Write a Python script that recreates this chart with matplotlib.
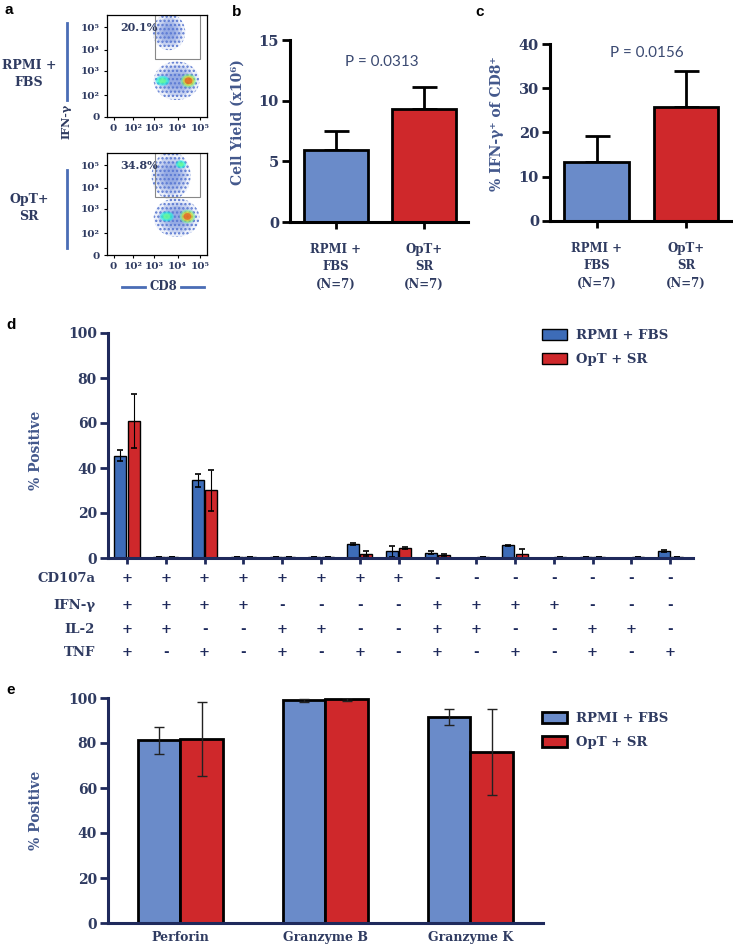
import numpy as np
import matplotlib
matplotlib.use("Agg")
import matplotlib.pyplot as plt
from matplotlib.patches import Ellipse, Rectangle
from matplotlib.transforms import blended_transform_factory

# ---- data ----
groups = ["RPMI +\nFBS\n(N=7)", "OpT+\nSR\n(N=7)"]
yield_mean = [5.9, 9.3]
yield_err = [1.6, 1.85]
ifng_mean = [13.3, 25.8]
ifng_err = [6.0, 8.0]

cd107a = ["+", "+", "+", "+", "+", "+", "+", "+", "-", "-", "-", "-", "-", "-", "-"]
ifng = ["+", "+", "+", "+", "-", "-", "-", "-", "+", "+", "+", "+", "-", "-", "-"]
il2 = ["+", "+", "-", "-", "+", "+", "-", "-", "+", "+", "-", "-", "+", "+", "-"]
tnf = ["+", "-", "+", "-", "+", "-", "+", "-", "+", "-", "+", "-", "+", "-", "+"]
d_rpmi = [45.5, 0.5, 34.5, 0.4, 0.4, 0.4, 6.1, 3.0, 2.4, 0.1, 5.6, 0.1, 0.3, 0.1, 3.0]
d_rpmi_err = [2.3, 0, 3.0, 0, 0, 0, 0.4, 2.5, 0.5, 0, 0.3, 0, 0, 0, 0.4]
d_opt = [60.8, 0.5, 30.1, 0.4, 0.4, 0.4, 1.9, 4.4, 1.2, 0.4, 1.6, 0.3, 0.3, 0.3, 0.4]
d_opt_err = [12.0, 0, 9.0, 0, 0, 0, 1.0, 0.5, 0.5, 0, 2.5, 0, 0, 0, 0]

cytotox = ["Perforin", "Granzyme B", "Granzyme K"]
e_rpmi = [81.2, 99.0, 91.4]
e_rpmi_err = [6.0, 0.6, 3.5]
e_opt = [81.7, 99.5, 76.0]
e_opt_err = [16.5, 0.7, 19.0]

# flow plots: blobs (x, y, width, height, peak colour 0..1 of jet), in decade units
flow_xticks = [0, 0.9, 1.85, 2.95, 4.0]
flow_yticks = [0, 0.97, 2.03, 2.96, 3.97]
flow_ticklabels = ["0", "10²", "10³", "10⁴", "10⁵"]
rpmi_blobs = [(2.55, 3.75, 1.5, 1.6, 0.25), (2.9, 1.6, 2.1, 1.7, 0.25),
              (2.25, 1.6, 0.8, 0.55, 0.5), (3.45, 1.6, 0.9, 0.75, 0.88)]
opt_blobs = [(2.65, 3.5, 1.8, 2.1, 0.25), (3.1, 4.0, 0.6, 0.45, 0.5),
             (2.9, 1.65, 2.1, 1.7, 0.25), (2.45, 1.7, 0.8, 0.55, 0.5),
             (3.4, 1.7, 0.9, 0.75, 0.88)]
flow_pct = ["20.1%", "34.8%"]

W, H = 733, 946
NAVY = "#1f2a5c"
TXT = "#2f3b61"
LBL = "#43588c"
BLUE = "#6a8bc9"
BLUE_D = "#3d6cb8"
RED = "#cf282b"
SERIF = ["DejaVu Serif", "DejaVu Sans"]

fig = plt.figure(figsize=(W / 100, H / 100), dpi=100)


def box(l, t, r, b):
    return [l / W, 1 - b / H, (r - l) / W, (b - t) / H]


def ptext(x, y, s, **kw):
    fig.text(x / W, 1 - y / H, s, **kw)


# ---- panel a ----
plt.rcParams["hatch.linewidth"] = 1.1
jet = plt.get_cmap("jet")
for i, (top, bot, blobs, pct) in enumerate([(15, 117, rpmi_blobs, flow_pct[0]),
                                            (153, 255, opt_blobs, flow_pct[1])]):
    ax = fig.add_axes(box(107, top, 207, bot))
    ax.set_xlim(-0.3, 4.3)
    ax.set_ylim(0, 4.5)
    # speckled outer halo of every cluster
    for bx, by, bw, bh, peak in blobs:
        ax.add_patch(Ellipse((bx, by), bw, bh, fc="#e8edf9", ec="none", lw=0, alpha=0.8))
        ax.add_patch(Ellipse((bx, by), bw, bh, fill=False, ec="#5a78d0", hatch="....", lw=0))
    # denser cores
    for bx, by, bw, bh, peak in blobs:
        n = 4
        for k in range(1, n):
            s = 1 - 0.8 * k / n
            if peak <= 0.3:
                c, a = "#5b7bd6", 0.25
            else:
                c, a = jet(0.3 + (peak - 0.3) * k / (n - 1)), 0.5
            ax.add_patch(Ellipse((bx, by), bw * s, bh * s, color=c, alpha=a, lw=0))
    ax.add_patch(Rectangle((1.93, 2.56), 2.07, 2.5, fill=False, ec="#888888", lw=0.8))
    ax.text(0.32, 3.97, pct, ha="left", va="center", family=SERIF,
            weight="bold", fontsize=8, color=TXT)
    ax.set_xticks(flow_xticks, flow_ticklabels)
    ax.set_yticks(flow_yticks, flow_ticklabels)
    ax.tick_params(length=2, width=0.8, pad=3, labelsize=7.5, labelcolor=TXT)
    for lab in ax.get_xticklabels() + ax.get_yticklabels():
        lab.set_family(SERIF)
        lab.set_weight("bold")
    for sp in ax.spines.values():
        sp.set_linewidth(0.9)

fig.add_artist(plt.Line2D([67 / W] * 2, [1 - 23 / H, 1 - 100 / H], color="#4a6db5", lw=2))
fig.add_artist(plt.Line2D([67 / W] * 2, [1 - 170 / H, 1 - 248 / H], color="#4a6db5", lw=2))
fig.add_artist(plt.Line2D([122 / W, 145 / W], [1 - 287 / H] * 2, color="#4a6db5", lw=2))
fig.add_artist(plt.Line2D([181 / W, 204 / W], [1 - 287 / H] * 2, color="#4a6db5", lw=2))
ptext(163, 287, "CD8", ha="center", va="center", family=SERIF, weight="bold", fontsize=8.5, color=TXT)
ptext(66, 121, "IFN-γ", ha="center", va="center", rotation=90, family=SERIF,
      weight="bold", fontsize=8, color=TXT)
ptext(29, 74, "RPMI +\nFBS", ha="center", va="center", family=SERIF, weight="bold",
      fontsize=9, color=TXT, linespacing=1.45)
ptext(29, 208, "OpT+\nSR", ha="center", va="center", family=SERIF, weight="bold",
      fontsize=9, color=TXT, linespacing=1.45)

# ---- panels b and c ----
for pos, mean, err, ylim, yt, ylabel, pval, pxy, lab_y in [
        ((290, 40, 468, 222), yield_mean, yield_err, 15, [0, 5, 10, 15],
         "Cell Yield (x10⁶)", "P = 0.0313", (0.52, 13.2), 0.55),
        ((550, 44, 731, 221), ifng_mean, ifng_err, 40, [0, 10, 20, 30, 40],
         "% IFN-γ⁺ of CD8⁺", "P = 0.0156", (0.56, 38.0), 0.55)]:
    ax = fig.add_axes(box(*pos))
    x = np.arange(2)
    ax.bar(x, mean, width=0.72, color=[BLUE, RED], edgecolor="black", linewidth=2, zorder=2)
    ax.errorbar(x, mean, yerr=[[0, 0], err], fmt="none", ecolor="black",
                elinewidth=2, capsize=9, capthick=2, zorder=1)
    ax.set_ylim(0, ylim)
    ax.set_xlim(-0.52, 1.5)
    ax.set_yticks(yt)
    ax.set_xticks(x, groups)
    ax.spines[["top", "right"]].set_visible(False)
    for sp in ["left", "bottom"]:
        ax.spines[sp].set_linewidth(2.2)
    ax.tick_params(axis="y", length=6, width=2, pad=2, labelsize=10.5, labelcolor=TXT)
    ax.tick_params(axis="x", length=5, width=2, pad=10, labelsize=8.5, labelcolor=TXT)
    for lab in ax.get_xticklabels() + ax.get_yticklabels():
        lab.set_family(SERIF)
        lab.set_weight("bold")
    for lab in ax.get_xticklabels():
        lab.set_linespacing(1.45)
    ax.set_ylabel(ylabel, family=SERIF, weight="bold", fontsize=10, color=LBL)
    ax.yaxis.set_label_coords(-0.255, lab_y)
    ax.text(pxy[0], pxy[1], pval, ha="center", va="center", family="Lato",
            fontsize=11, color="#3b4a72")

# ---- panel d ----
ax = fig.add_axes(box(108, 333, 693, 558))
x = np.arange(len(cd107a))
ax.bar(x - 0.17, d_rpmi, 0.31, yerr=d_rpmi_err, color=BLUE_D, edgecolor="black",
       linewidth=1, error_kw=dict(elinewidth=0.8, capsize=2, capthick=1.2), label="RPMI + FBS")
ax.bar(x + 0.17, d_opt, 0.31, yerr=d_opt_err, color=RED, edgecolor="black",
       linewidth=1, error_kw=dict(elinewidth=0.8, capsize=2, capthick=1.2), label="OpT + SR")
ax.set_xlim(-0.49, 14.59)
ax.set_ylim(0, 100)
ax.set_yticks([0, 20, 40, 60, 80, 100])
ax.set_xticks(x, [""] * len(x))
ax.spines[["top", "right"]].set_visible(False)
for sp in ["left", "bottom"]:
    ax.spines[sp].set_linewidth(2.2)
    ax.spines[sp].set_color(NAVY)
ax.tick_params(axis="y", length=6, width=2, pad=2, color=NAVY, labelsize=10, labelcolor=TXT)
ax.tick_params(axis="x", length=4, width=2, color=NAVY)
for lab in ax.get_yticklabels():
    lab.set_family(SERIF)
    lab.set_weight("bold")
ax.set_ylabel("% Positive", family=SERIF, weight="bold", fontsize=10, color=LBL)
ax.yaxis.set_label_coords(-0.111, 0.48)
tr = blended_transform_factory(ax.transData, ax.transAxes)
for (name, signs), ry in zip([("CD107a", cd107a), ("IFN-γ", ifng), ("IL-2", il2), ("TNF", tnf)],
                             [-0.093, -0.209, -0.316, -0.422]):
    ax.text(-0.022, ry, name, transform=ax.transAxes, ha="right", va="center",
            family=SERIF, weight="bold", fontsize=9.5, color=TXT)
    for xi, s in zip(x, signs):
        ax.text(xi, ry, s, transform=tr, ha="center", va="center",
                family=SERIF, weight="bold", fontsize=9.5, color=NAVY)
ax.legend(loc="upper left", bbox_to_anchor=(542 / W, 1 - 329 / H), bbox_transform=fig.transFigure,
          frameon=False, prop=dict(family=SERIF, weight="bold", size=9.5), labelcolor=TXT,
          handlelength=1.9, handleheight=0.85, handletextpad=0.7, labelspacing=0.85,
          borderpad=0, borderaxespad=0)

# ---- panel e ----
ax = fig.add_axes(box(108, 698, 543, 923))
x = np.arange(len(cytotox))
ax.bar(x - 0.145, e_rpmi, 0.29, yerr=e_rpmi_err, color=BLUE, edgecolor="black", linewidth=2,
       error_kw=dict(elinewidth=1, ecolor="#222222", capsize=3.5, capthick=1), label="RPMI + FBS")
ax.bar(x + 0.145, e_opt, 0.29, yerr=e_opt_err, color=RED, edgecolor="black", linewidth=2,
       error_kw=dict(elinewidth=1, ecolor="#222222", capsize=3.5, capthick=1), label="OpT + SR")
ax.set_xlim(-0.5, 2.5)
ax.set_ylim(0, 100)
ax.set_yticks([0, 20, 40, 60, 80, 100])
ax.set_xticks(x, cytotox)
ax.spines[["top", "right"]].set_visible(False)
for sp in ["left", "bottom"]:
    ax.spines[sp].set_linewidth(2.2)
    ax.spines[sp].set_color(NAVY)
ax.tick_params(axis="y", length=6, width=2, pad=2, color=NAVY, labelsize=10, labelcolor=TXT)
ax.tick_params(axis="x", length=0, pad=6, labelsize=9, labelcolor=TXT)
for lab in ax.get_xticklabels() + ax.get_yticklabels():
    lab.set_family(SERIF)
    lab.set_weight("bold")
ax.set_ylabel("% Positive", family=SERIF, weight="bold", fontsize=10, color=LBL)
ax.yaxis.set_label_coords(-0.149, 0.5)
ax.legend(loc="upper left", bbox_to_anchor=(542 / W, 1 - 712 / H), bbox_transform=fig.transFigure,
          frameon=False, prop=dict(family=SERIF, weight="bold", size=9.5), labelcolor=TXT,
          handlelength=1.9, handleheight=0.85, handletextpad=0.7, labelspacing=0.85,
          borderpad=0, borderaxespad=0)

# panel letters
for s, px, py in [("a", 9, 10), ("b", 237, 12), ("c", 480, 12), ("d", 11, 325), ("e", 11, 690)]:
    ptext(px, py, s, ha="center", va="center", family="Liberation Sans", weight="bold",
          fontsize=11, color="black")

fig.savefig("out.png", dpi=100)
